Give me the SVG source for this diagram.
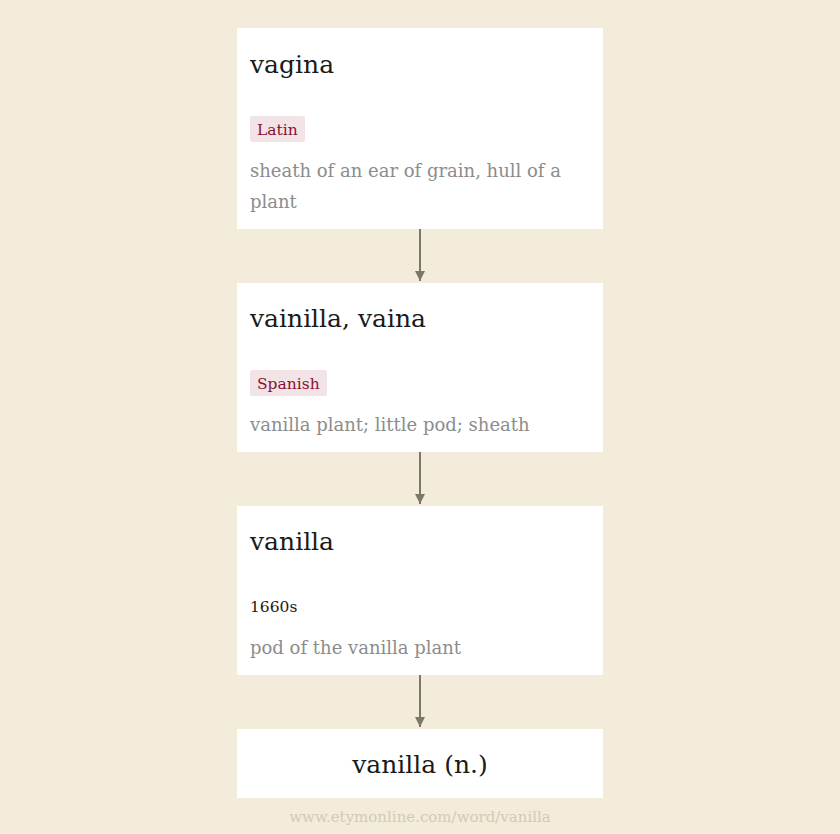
<svg xmlns="http://www.w3.org/2000/svg" width="840" height="834" viewBox="0 0 840 834">
<defs>
<style>
.box{fill:#ffffff}
.title{font-family:"DejaVu Serif","Liberation Serif",serif;font-size:25px;fill:#1a1a1a}
.tag{fill:#f2e3e6}
.tagt{font-family:"DejaVu Serif","Liberation Serif",serif;font-size:15.5px;fill:#8a1030}
.def{font-family:"DejaVu Serif","Liberation Serif",serif;font-size:18px;fill:#8c8c8c}
.date{font-family:"DejaVu Serif","Liberation Serif",serif;font-size:15.5px;fill:#1a1a1a}
.edge{stroke:#7a7868;stroke-width:2;fill:none;marker-end:url(#ah)}
.foot{font-family:"DejaVu Serif","Liberation Serif",serif;font-size:15px;fill:#d2cab8}
</style>
<marker id="ah" viewBox="0 0 10 10" refX="10" refY="5" markerWidth="5" markerHeight="5" orient="auto" markerUnits="strokeWidth">
<path d="M0,0 L10,5 L0,10 z" fill="#7a7868"/>
</marker>
</defs>
<rect width="840" height="834" fill="#f3ecdb"/>
<g id="connectors">
<line class="edge" x1="420" y1="229" x2="420" y2="281"/>
<line class="edge" x1="420" y1="452" x2="420" y2="504"/>
<line class="edge" x1="420" y1="675" x2="420" y2="727"/>
</g>
<g id="node-vagina">
<rect class="box" x="237" y="28" width="366" height="201"/>
<text class="title" x="250" y="73">vagina</text>
<rect class="tag" x="250" y="116" width="55" height="26" rx="2"/>
<text class="tagt" x="257" y="135">Latin</text>
<text class="def" x="250" y="177">sheath of an ear of grain, hull of a</text>
<text class="def" x="250" y="208">plant</text>
</g>
<g id="node-vainilla">
<rect class="box" x="237" y="283" width="366" height="169"/>
<text class="title" x="250" y="327">vainilla, vaina</text>
<rect class="tag" x="250" y="370" width="77" height="26" rx="2"/>
<text class="tagt" x="257" y="389">Spanish</text>
<text class="def" x="250" y="431">vanilla plant; little pod; sheath</text>
</g>
<g id="node-vanilla">
<rect class="box" x="237" y="506" width="366" height="169"/>
<text class="title" x="250" y="550">vanilla</text>
<text class="date" x="250" y="612">1660s</text>
<text class="def" x="250" y="654">pod of the vanilla plant</text>
</g>
<g id="node-vanilla-n">
<rect class="box" x="237" y="729" width="366" height="69"/>
<text class="title" x="420" y="773" text-anchor="middle">vanilla (n.)</text>
</g>
<text class="foot" x="420" y="822" text-anchor="middle">www.etymonline.com/word/vanilla</text>
</svg>
